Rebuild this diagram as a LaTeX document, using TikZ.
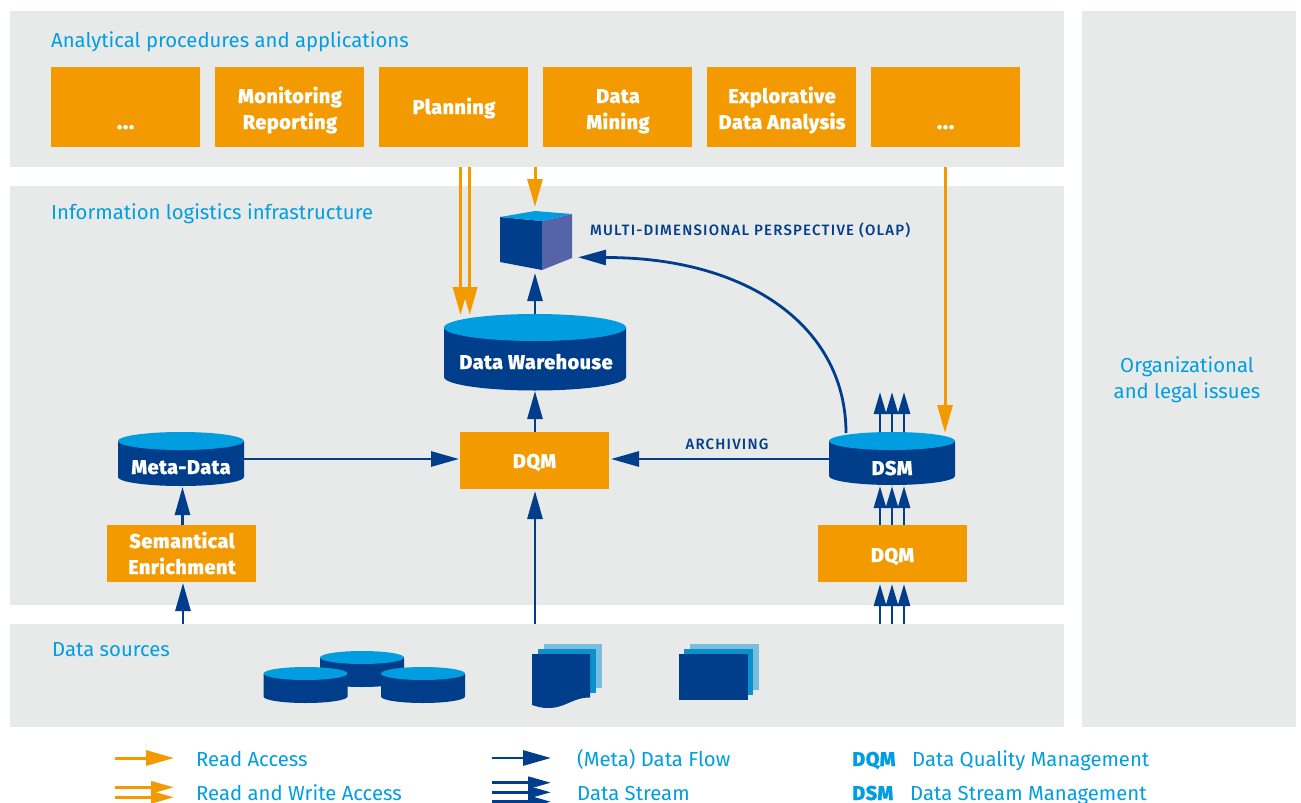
\documentclass[tikz,border=0pt]{standalone}
\usepackage{fontspec}
\setmainfont{Fira Sans}
\newfontfamily\boxfont[LetterSpace=2,FakeBold=0.3]{Fira Sans ExtraBold}
\newfontfamily\capsfont[LetterSpace=8]{Fira Sans Medium}
\usetikzlibrary{arrows.meta,calc}
\definecolor{panelgrey}{HTML}{E8EAE9}
\definecolor{orangeM}{HTML}{F39A00}
\definecolor{blueD}{HTML}{003E8C}
\definecolor{blueL}{HTML}{009EE0}
\definecolor{blueP}{HTML}{78BDDD}
\definecolor{blueM}{HTML}{0A90CC}
\definecolor{cubeside}{HTML}{5564A8}
\tikzset{
  x=1pt,y=-1pt,
  obox/.style={fill=orangeM,draw=none,inner sep=0pt,minimum width=149pt},
  otext/.style={text=white,inner sep=0pt,anchor=base,font=\boxfont\fontsize{20}{26}\selectfont},
  dotstext/.style={text=white,inner sep=0pt,anchor=base,font=\boxfont\fontsize{23}{26}\selectfont},
  ghost/.style={draw=none,inner sep=0pt,fill=none},
  cyltext/.style={text=white,inner sep=0pt,anchor=base,font=\boxfont\fontsize{20}{24}\selectfont},
  ltext/.style={text=blueL,inner sep=0pt,anchor=base west,font=\fontsize{20.3}{26}\selectfont},
  legtext/.style={text=blueL,inner sep=0pt,anchor=base west,font=\fontsize{20.3}{26}\selectfont},
  legbold/.style={text=blueL,inner sep=0pt,anchor=base west,font=\boxfont\fontsize{20}{26}\selectfont},
  capstext/.style={text=blueD,inner sep=0pt,anchor=base,font=\capsfont\fontsize{15}{18}\selectfont},
  flow/.style={draw=blueD,line width=2.8pt,-{Triangle[length=28pt,width=15pt]}},
  stream/.style={draw=blueD,line width=2.8pt,-{Triangle[length=22pt,width=12pt]}},
  readacc/.style={draw=orangeM,line width=3pt,-{Triangle[length=28pt,width=15pt]}},
  legflow/.style={draw=blueD,line width=2.8pt,-{Triangle[length=28pt,width=15pt]}},
  legstream/.style={draw=blueD,line width=2.8pt,-{Triangle[length=23pt,width=12pt]}},
  legread/.style={draw=orangeM,line width=3pt,-{Triangle[length=28pt,width=15pt]}},
  legrw/.style={draw=orangeM,line width=3pt,-{Triangle[length=23pt,width=12pt]}},
}
% centre x, centre y of top ellipse, x radius, y radius, side height
\newcommand{\cylshape}[5]{%
  \fill[blueD] ({#1-#3},#2) -- ({#1-#3},{#2+#5}) arc[start angle=180,end angle=360,x radius=#3pt,y radius=#4pt] -- ({#1+#3},#2) -- cycle;
  \fill[blueL] (#1,#2) ellipse[x radius=#3pt,y radius=#4pt];
}
\begin{document}
\begin{tikzpicture}
\useasboundingbox (0,0) rectangle (1301,803);
\clip (0,0) rectangle (1301,803);
\fill[white] (0,0) rectangle (1301,803);
% panels
\fill[panelgrey] (10,11) rectangle (1064,167);
\fill[panelgrey] (10,186) rectangle (1064,605);
\fill[panelgrey] (10,624) rectangle (1064,727);
\fill[panelgrey] (1082,11) rectangle (1296,727);
\node[ltext] (t1) at (51,47) {Analytical procedures and applications};
\node[ltext] (t2) at (51,219) {Information logistics infrastructure};
\node[ltext] (t3) at (52,656) {Data sources};
\node[ltext,anchor=base] (t4a) at (1187,372) {Organizational};
\node[ltext,anchor=base] (t4b) at (1187,398) {and legal issues};
% top boxes
\node[obox,minimum height=80pt] (b1) at (125.5,107) {};
\node[obox,minimum height=80pt] (b2) at (289.5,107) {};
\node[obox,minimum height=80pt] (b3) at (453.5,107) {};
\node[obox,minimum height=80pt] (b4) at (617.5,107) {};
\node[obox,minimum height=80pt] (b5) at (781.5,107) {};
\node[obox,minimum height=80pt] (b6) at (945.5,107) {};
\node[dotstext] (b1t) at (125.5,129) {...};
\node[otext] (b2t) at (290,103) {Monitoring};
\node[otext] (b2u) at (290,129) {Reporting};
\node[otext] (b3t) at (454,114) {Planning};
\node[otext] (b4t) at (618,103) {Data};
\node[otext] (b4u) at (618,129) {Mining};
\node[otext] (b5t) at (782,103) {Explorative};
\node[otext] (b5u) at (782,129) {Data Analysis};
\node[dotstext] (b6t) at (945.5,129) {...};
% lower boxes
\node[obox,minimum height=57pt] (dqmc) at (534.5,460.5) {};
\node[otext] (dqmct) at (534.5,468) {DQM};
\node[obox,minimum height=57pt] (sem) at (181.5,553.5) {};
\node[otext] (semt) at (182,548) {Semantical};
\node[otext] (semu) at (182,574) {Enrichment};
\node[obox,minimum height=57pt] (dqmr) at (892.5,553.5) {};
\node[otext] (dqmrt) at (892.5,562) {DQM};
% cylinders
\cylshape{535}{327.5}{91}{13.5}{49.5}
\node[ghost,minimum width=182pt,minimum height=76pt] (dw) at (535,352) {};
\node[cyltext] (dwt) at (536,369) {Data Warehouse};
\cylshape{181}{441}{63}{9}{36}
\node[ghost,minimum width=126pt,minimum height=52pt] (meta) at (181,458) {};
\node[cyltext] (metat) at (181,474) {Meta-Data};
\cylshape{892}{441}{63}{9}{35}
\node[ghost,minimum width=126pt,minimum height=52pt] (dsm) at (892,458) {};
\node[cyltext] (dsmt) at (892,475) {DSM};
% cube
\node[ghost,minimum width=72pt,minimum height=59pt] (cube) at (535,240.5) {};
\fill[blueD] (500,217) -- (542,221) -- (542,270) -- (500,262) -- cycle;
\fill[cubeside] (542,221) -- (572,214) -- (572,258) -- (542,270) -- cycle;
\fill[blueL] (500,217) -- (535,211) -- (572,214) -- (542,221) -- cycle;
\node[capstext,anchor=base west] (olap) at (590,235) {MULTI-DIMENSIONAL PERSPECTIVE (OLAP)};
\node[capstext] (arch) at (727,449) {ARCHIVING};
% sources
\cylshape{362}{657.5}{42}{6.5}{23}
\cylshape{305.5}{673.5}{42}{6.5}{23}
\cylshape{423}{673.5}{42}{6.5}{23}
\fill[blueP] (544,643.5) rectangle (601.5,687.5);
\fill[blueM] (538,649) rectangle (596,692.5);
\fill[blueD] (532,654) -- (590,654) -- (590,697.5) .. controls (572,697.5) and (566,708) .. (548,708) .. controls (541,708) and (537,706.5) .. (532,705) -- cycle;
\fill[blueP] (689.5,644) rectangle (758.5,690);
\fill[blueM] (684,649) rectangle (753,695);
\fill[blueD] (679,654) rectangle (748,700);
% free ends
\coordinate (ora) at (460.5,167);
\coordinate (orb) at (469.7,167);
\coordinate (orc) at (535,167);
\coordinate (ord) at (945,167);
\coordinate (srca) at (183,624);
\coordinate (srcb) at (535,624);
\coordinate (srcc) at (880,624);
\coordinate (srcd) at (892,624);
\coordinate (srce) at (904,624);
\coordinate (dqmcl) at (459,459);
\coordinate (dqmcr) at (611,459);
% orange connectors
\draw[readacc] (ora) -- (460.5,315);
\draw[readacc] (orb) -- (469.7,315);
\draw[readacc] (orc) -- (535,207);
\draw[readacc] (ord) -- (945,433);
% blue connectors
\draw[flow] (dw.north) -- (535,273);
\draw[flow] (dqmc.north -| dw.north) -- (535,391);
\draw[flow] (srcb) -- (535,491);
\draw[flow] (meta.east |- dqmcl) -- (dqmcl);
\draw[flow] (dsm.west |- dqmcr) -- (dqmcr);
\draw[flow] (846,433) .. controls (846,328) and (750,257.5) .. (606,257.5) -- (578,257.3);
\draw[flow] (182.5,525) -- (182.5,487);
\draw[flow] (srca) -- (183,583);
\foreach \xx/\src in {880/srcc,892/srcd,904/srce}{
  \draw[stream] (\xx,432) -- (\xx,392);
  \draw[stream] (\xx,525) -- (\xx,486);
  \draw[stream] (\src) -- (\xx,584);
}
% legend
\coordinate (la1) at (115,758); \coordinate (la2) at (174,758);
\draw[legread] (la1) -- (la2);
\coordinate (lb1) at (115,787.3); \coordinate (lb2) at (174,787.3);
\coordinate (lc1) at (115,797.3); \coordinate (lc2) at (174,797.3);
\draw[legrw] (lb1) -- (lb2);
\draw[legrw] (lc1) -- (lc2);
\coordinate (ld1) at (492,758); \coordinate (ld2) at (551,758);
\draw[legflow] (ld1) -- (ld2);
\foreach \yy in {782.7,792.3,801.7}{
  \draw[legstream] (492,\yy) -- (551,\yy);
}
\node[legtext] (l1) at (196,766) {Read Access};
\node[legtext] (l2) at (196,800) {Read and Write Access};
\node[legtext] (l3) at (577,766) {(Meta) Data Flow};
\node[legtext] (l4) at (577,800) {Data Stream};
\node[legbold] (l5) at (852,766) {DQM};
\node[legtext] (l6) at (912,766) {Data Quality Management};
\node[legbold] (l7) at (852,800) {DSM};
\node[legtext] (l8) at (910,800) {Data Stream Management};
\end{tikzpicture}
\end{document}
